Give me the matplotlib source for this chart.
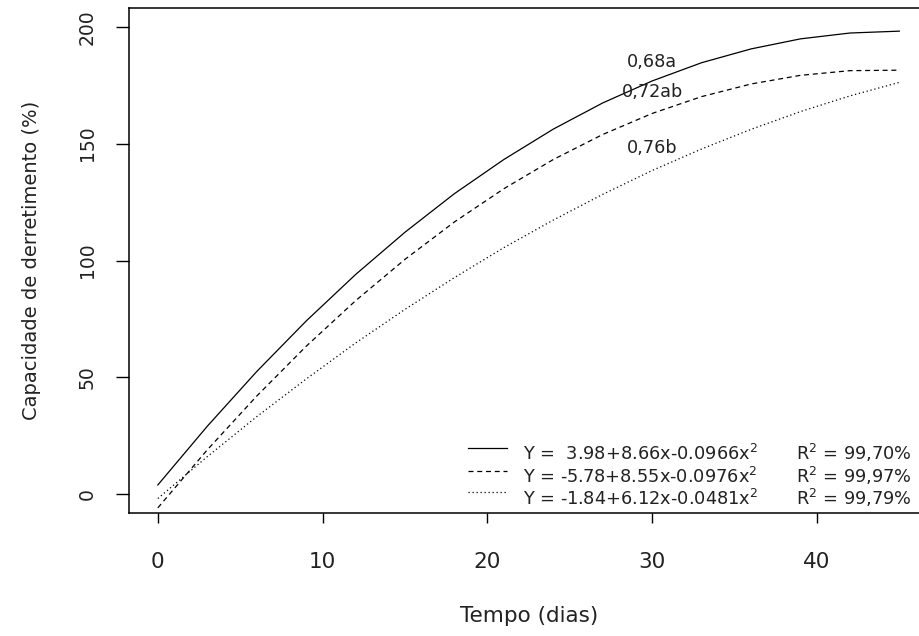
import numpy as np
import matplotlib
matplotlib.use('Agg')
import matplotlib.pyplot as plt

# Data: melting capacity (%) vs time (days)
dias = [0, 3, 6, 9, 12, 15, 18, 21, 24, 27, 30, 33, 36, 39, 42, 45]
cap_068 = [4.0, 29.1, 52.5, 74.1, 94.0, 112.1, 128.6, 143.2, 156.2, 167.4, 176.8, 184.6, 190.5, 194.8, 197.3, 198.1]
cap_072 = [-5.8, 19.0, 42.0, 63.3, 82.8, 100.5, 116.5, 130.7, 143.2, 153.9, 162.9, 170.1, 175.5, 179.2, 181.2, 181.4]
cap_076 = [-1.8, 16.1, 33.2, 49.3, 64.7, 79.1, 92.7, 105.5, 117.3, 128.3, 138.5, 147.7, 156.1, 163.7, 170.4, 176.2]

rotulos = ["0,68a", "0,72ab", "0,76b"]
rot_x = [30, 30, 30]
rot_y = [185, 172, 148]

equacoes = [r"Y =  3.98+8.66x-0.0966x$^2$",
            r"Y = -5.78+8.55x-0.0976x$^2$",
            r"Y = -1.84+6.12x-0.0481x$^2$"]
r2 = [r"R$^2$ = 99,70%", r"R$^2$ = 99,97%", r"R$^2$ = 99,79%"]

xticks = [0, 10, 20, 30, 40]
yticks = [0, 50, 100, 150, 200]

plt.rcParams['font.family'] = 'DejaVu Sans'
plt.rcParams['mathtext.fontset'] = 'dejavusans'

fig = plt.figure(figsize=(9.2, 6.36), dpi=100)
ax = fig.add_axes([129/920., 123/636., 800/920., 505/636.])

estilos = [dict(ls='-'), dict(ls=(0, (4, 3))), dict(ls=(0, (1, 2.2)))]
series = [cap_068, cap_072, cap_076]
for s, st in zip(series, estilos):
    ax.plot(dias, s, color='black', lw=0.9, **st)

for t, x, y in zip(rotulos, rot_x, rot_y):
    ax.text(x, y, t, fontsize=12.7, ha='center', va='center', color='#222222')

# legend drawn by hand (R style, no box)
ky = [0.1287, 0.0832, 0.0416]
ty = [0.105, 0.060, 0.016]
for i in range(3):
    ax.plot([0.424, 0.4725], [ky[i], ky[i]], transform=ax.transAxes, color='black', lw=0.9, **estilos[i])
    ax.text(0.4925, ty[i], equacoes[i], transform=ax.transAxes, fontsize=12.8, va='baseline', color='#222222')
    ax.text(0.834, ty[i], r2[i], transform=ax.transAxes, fontsize=12.8, va='baseline', color='#222222')

ax.set_xlim(-1.75, 46.8)
ax.set_ylim(-8, 208)
ax.set_xticks(xticks)
ax.set_yticks(yticks)
ax.set_xticklabels([str(v) for v in xticks], fontsize=15.5, color='#222222')
ax.set_yticklabels([str(v) for v in yticks], fontsize=13.5, rotation=90, va='center', color='#222222')
ax.tick_params(axis='x', length=7.2, width=1.0, pad=21)
ax.tick_params(axis='y', length=9.4, width=1.0, pad=13.7)
for sp in ax.spines.values():
    sp.set_linewidth(1.1)

ax.set_xlabel("Tempo (dias)", fontsize=15.5, color='#222222')
ax.xaxis.set_label_coords(0.5, -0.185)
ax.set_ylabel("Capacidade de derretimento (%)", fontsize=14, color='#222222')
ax.yaxis.set_label_coords(-0.122, 0.5)
ax.yaxis.label.set_va('center')

fig.savefig('out.png', dpi=100)
